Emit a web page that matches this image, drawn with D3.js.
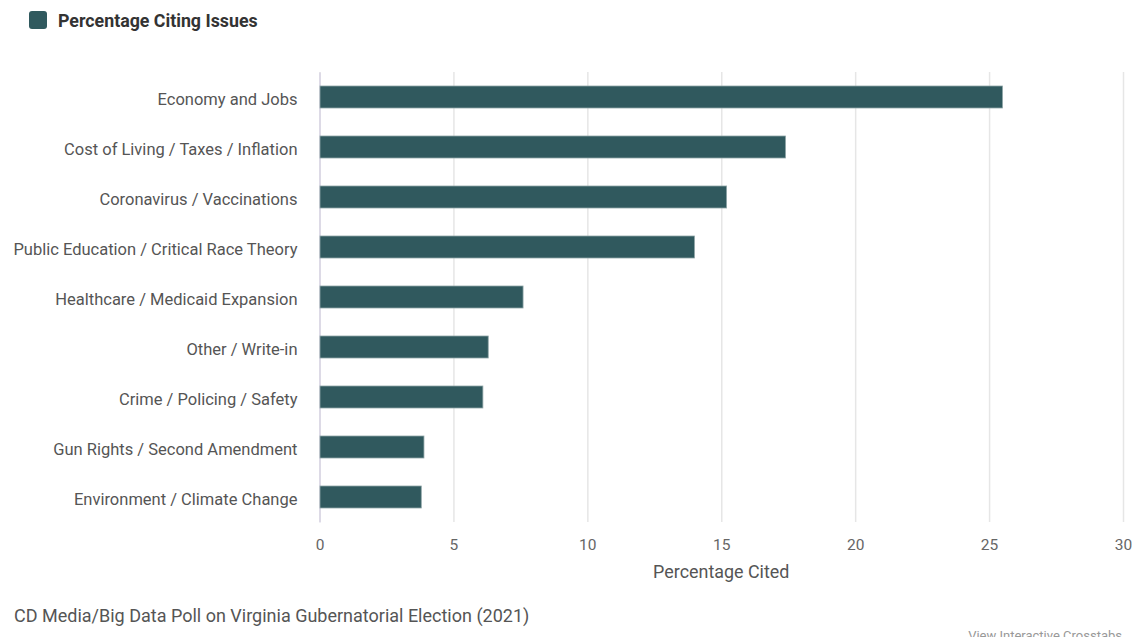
<!DOCTYPE html>
<html><head><meta charset="utf-8">
<script src="https://cdn.jsdelivr.net/npm/d3@7"></script>
<style>
html,body{margin:0;padding:0;background:#fff;}
svg{display:block;font-family:Roboto, "Noto Sans", sans-serif;}
</style></head>
<body><svg id="c" width="1136" height="637"></svg>
<script>
const categories = ["Economy and Jobs","Cost of Living / Taxes / Inflation","Coronavirus / Vaccinations","Public Education / Critical Race Theory","Healthcare / Medicaid Expansion","Other / Write-in","Crime / Policing / Safety","Gun Rights / Second Amendment","Environment / Climate Change"];
const values = [25.5, 17.4, 15.2, 14.0, 7.6, 6.3, 6.1, 3.9, 3.8];
const tickValues = [0,5,10,15,20,25,30];
const seriesName = "Percentage Citing Issues";
const axisTitle = "Percentage Cited";
const footer = "CD Media/Big Data Poll on Virginia Gubernatorial Election (2021)";
const linkText = "View Interactive Crosstabs";

(function(){
const svg = d3.select("#c");
const color = "#30595e";
const mL = 319.5, mR = 1123, mT = 72, mB = 522;
const x = d3.scaleLinear().domain([0,30]).range([mL,mR]);
const y = d3.scaleBand().domain(categories).range([mT,mB]).paddingInner(0.56).paddingOuter(0.28);

// legend
svg.append("rect").attr("x",29).attr("y",11).attr("width",18).attr("height",18).attr("rx",3).attr("fill",color);
svg.append("text").attr("x",58).attr("y",27).attr("font-size",17.8).attr("font-weight","bold").attr("fill","#333").text(seriesName);

// grid
const gx = svg.append("g").attr("transform",`translate(0,${mB})`)
  .call(d3.axisBottom(x).tickValues(tickValues).tickSize(-(mB-mT)).tickFormat(d3.format("d")).tickPadding(17));
gx.select(".domain").remove();
gx.selectAll(".tick line").attr("stroke","#e6e6e6").attr("stroke-width",1.5);
gx.selectAll(".tick text").attr("font-size",15.5).attr("fill","#666").attr("font-family","Roboto, sans-serif");

// y axis
const gy = svg.append("g").attr("transform",`translate(${mL},0)`)
  .call(d3.axisLeft(y).tickSize(0).tickPadding(22));
gy.select(".domain").attr("stroke","#d8d4e4").attr("stroke-width",1.5);
gy.selectAll(".tick text").attr("font-size",16.5).attr("fill","#555").attr("font-family","Roboto, sans-serif").attr("dy","0.47em");

// bars
svg.append("g").selectAll("rect").data(values).join("rect")
  .attr("x",x(0)+0.5).attr("y",(d,i)=>y(categories[i]))
  .attr("width",d=>x(d)-x(0)-0.5).attr("height",y.bandwidth())
  .attr("fill",color).attr("stroke","#8fa5a7").attr("stroke-width",0.8);

// axis title
svg.append("text").attr("x",(mL+mR)/2).attr("y",578).attr("text-anchor","middle")
  .attr("font-size",17.9).attr("fill","#555").text(axisTitle);

svg.append("text").attr("x",14).attr("y",622).attr("font-size",18).attr("fill","#555").text(footer);
svg.append("text").attr("x",1122).attr("y",640).attr("text-anchor","end").attr("font-size",13).attr("fill","#999").text(linkText);
})();
</script></body></html>
